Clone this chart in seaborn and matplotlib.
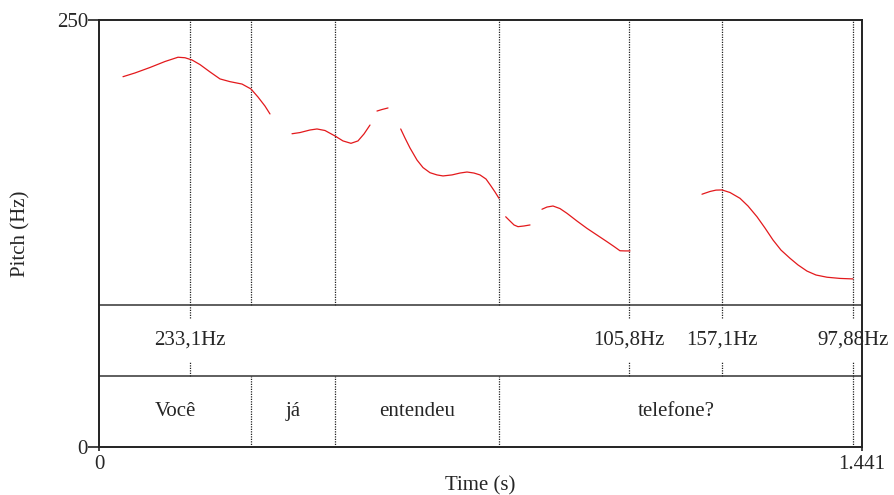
import numpy as np
import pandas as pd
import matplotlib
matplotlib.use("Agg")
import matplotlib.pyplot as plt
import seaborn as sns

# ---------------- data ----------------
T_MAX = 1.441
# pitch contour segments (time s, pitch Hz)
seg1_t = [0.0453, 0.0680, 0.0963, 0.1246, 0.1492, 0.1624, 0.1756, 0.1907, 0.2096, 0.2285, 0.2474, 0.2701, 0.2871, 0.3003, 0.3135, 0.3229]
seg1_f = [216.8, 219.0, 222.2, 225.7, 228.2, 227.9, 226.6, 223.9, 219.6, 215.5, 213.9, 212.5, 209.6, 204.9, 199.6, 195.0]
seg2_t = [0.3645, 0.3796, 0.3985, 0.4117, 0.4268, 0.4457, 0.4608, 0.4759, 0.4891, 0.5005, 0.5118]
seg2_f = [183.4, 184.1, 185.6, 186.2, 185.3, 182.1, 179.2, 177.8, 179.2, 183.3, 188.5]
seg3_t = [0.5250, 0.5345, 0.5458]
seg3_f = [196.7, 197.6, 198.5]
seg4_t = [0.5698, 0.5779, 0.5873, 0.6006, 0.6119, 0.6251, 0.6383, 0.6497, 0.6667, 0.6818, 0.6950, 0.7082, 0.7195, 0.7309, 0.7403, 0.7479, 0.7554]
seg4_f = [186.2, 180.9, 175.1, 168.0, 163.6, 160.6, 159.3, 158.7, 159.3, 160.4, 161.0, 160.4, 159.3, 156.9, 152.8, 149.3, 145.6]
seg5_t = [0.7681, 0.7762, 0.7838, 0.7913, 0.8026, 0.8140]
seg5_f = [134.8, 132.3, 130.0, 129.0, 129.4, 130.0]
seg6_t = [0.8366, 0.8461, 0.8574, 0.8706, 0.8839, 0.9027, 0.9216, 0.9405, 0.9594, 0.9726, 0.9839, 0.9934, 1.0028]
seg6_f = [139.2, 140.5, 141.1, 139.6, 136.8, 132.3, 128.0, 124.1, 120.2, 117.4, 114.9, 114.8, 114.8]
seg7_t = [1.1388, 1.1539, 1.1653, 1.1766, 1.1917, 1.2106, 1.2257, 1.2427, 1.2578, 1.2729, 1.2880, 1.3050, 1.3201, 1.3371, 1.3541, 1.3749, 1.3994, 1.4240]
seg7_f = [148.0, 149.6, 150.4, 150.5, 149.0, 145.6, 141.1, 134.8, 128.2, 121.2, 115.3, 110.5, 106.6, 103.0, 100.7, 99.4, 98.7, 98.4]

# word tier (interval boundaries and labels)
word_bounds = [0.2871, 0.4457, 0.7553, 1.4240]
word_labels = ["Você", "já", "entendeu", "telefone?"]
# point tier
point_times = [0.1719, 1.0010, 1.1766, 1.4240]
point_labels = ["233,1Hz", "105,8Hz", "157,1Hz", "97,88Hz"]

Y_MAX = 250
PITCH_FLOOR = 83.1   # top of point tier
TIER_SPLIT = 41.7    # between point tier and word tier

# ---------------- build frame ----------------
segs = [(seg1_t, seg1_f), (seg2_t, seg2_f), (seg3_t, seg3_f), (seg4_t, seg4_f),
        (seg5_t, seg5_f), (seg6_t, seg6_f), (seg7_t, seg7_f)]
rows = []
for i, (ts, fs) in enumerate(segs):
    for t, f in zip(ts, fs):
        rows.append({"seg": i, "time": t, "pitch": f})
df = pd.DataFrame(rows)

# ---------------- plot ----------------
sns.set_theme(style="ticks")
plt.rcParams["font.family"] = ["Liberation Serif", "DejaVu Serif"]
FS = 15

fig = plt.figure(figsize=(8.94, 4.95), dpi=100)
ax = fig.add_axes([99 / 894, 48 / 495, 763 / 894, 427 / 495])

dot = dict(color="#222222", linestyle=(0, (1, 1)), linewidth=0.9)

# vertical dotted lines in pitch area
all_marks = sorted(set(word_bounds + point_times))
ax.vlines(all_marks, PITCH_FLOOR, Y_MAX, **dot)
# word tier boundaries
ax.vlines(word_bounds, 0, TIER_SPLIT, **dot)
# point tier short marks
ax.vlines(point_times, 75.5, PITCH_FLOOR, **dot)
ax.vlines(point_times, TIER_SPLIT, 49.8, **dot)

sns.lineplot(data=df, x="time", y="pitch", units="seg", estimator=None,
             color="#e3191c", linewidth=0.9, ax=ax, sort=False)

# tier separators
ax.axhline(PITCH_FLOOR, color="#333333", linewidth=1.1)
ax.axhline(TIER_SPLIT, color="#333333", linewidth=1.1)

# tier texts
starts = [0.0] + word_bounds[:-1]
for s, e, lab in zip(starts, word_bounds, word_labels):
    ax.text((s + e) / 2, TIER_SPLIT / 2, lab, ha="center", va="center", fontsize=FS)
for t, lab in zip(point_times, point_labels):
    ax.text(t, (PITCH_FLOOR + TIER_SPLIT) / 2, lab, ha="center", va="center",
            fontsize=FS, clip_on=False)

ax.set_xlim(0, T_MAX)
ax.set_ylim(0, Y_MAX)
ax.set_xticks([0, T_MAX])
ax.set_xticklabels(["0", "1.441"], fontsize=FS)
ax.set_yticks([0, Y_MAX])
ax.set_yticklabels(["0", "250"], fontsize=FS)
ax.tick_params(axis="y", length=8, width=1.2, pad=0, color="#222222")
ax.tick_params(axis="x", length=3, width=1.2, pad=3, color="#222222")
for sp in ax.spines.values():
    sp.set_visible(True)
    sp.set_linewidth(1.4)
    sp.set_color("#222222")

ax.set_xlabel("Time (s)", fontsize=FS)
ax.set_ylabel("Pitch (Hz)", fontsize=FS)
ax.xaxis.set_label_coords(0.5, -0.068)
ax.yaxis.set_label_coords(-0.09, 0.5)

fig.savefig("out.png", dpi=100)
